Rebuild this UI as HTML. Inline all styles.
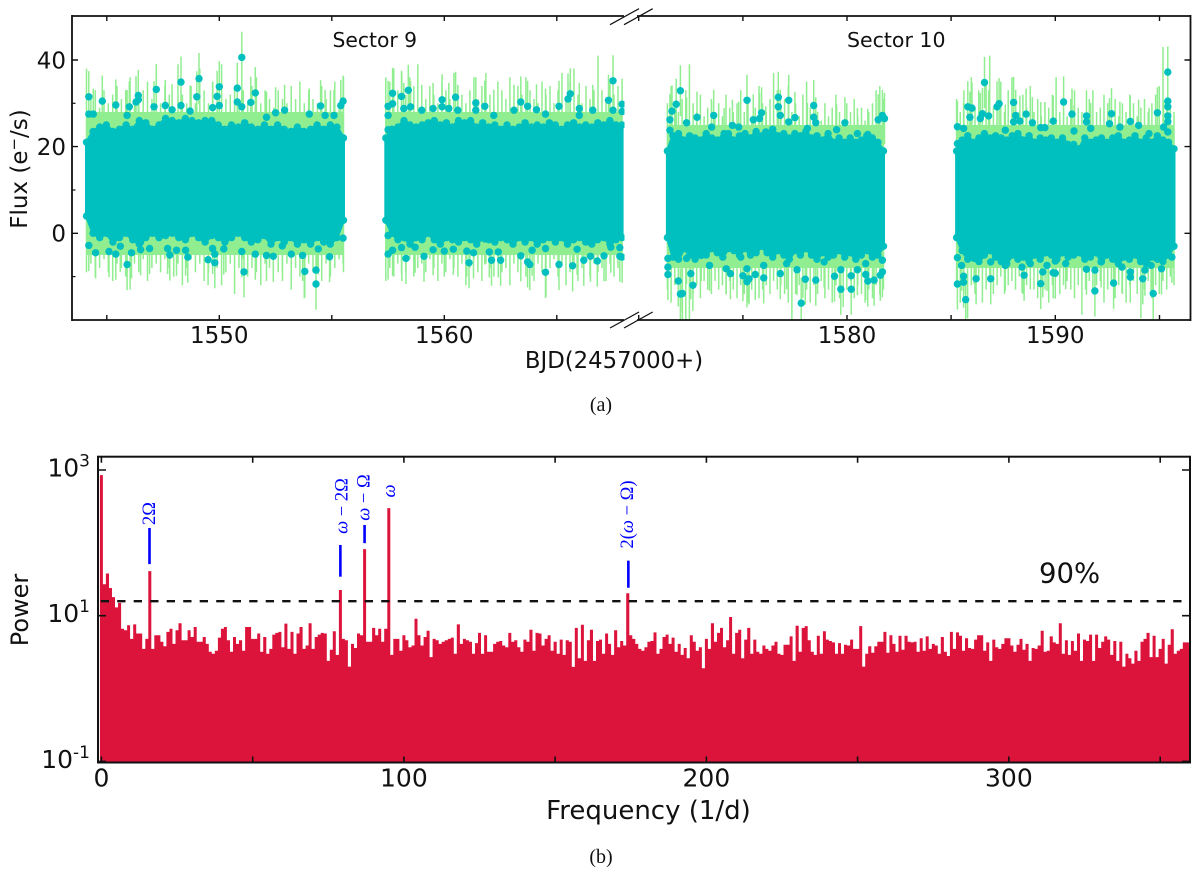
<!DOCTYPE html>
<html>
<head>
<meta charset="utf-8">
<title>Light curve and periodogram</title>
<style>
html,body{margin:0;padding:0;background:#fff;}
svg{display:block;}
text{font-family:"DejaVu Sans","Liberation Sans",sans-serif;fill:#111;}
.serif{font-family:"Liberation Serif",serif;}
.anno{font-family:"Liberation Serif",serif;fill:#0000ff;font-size:18.5px;}
</style>
</head>
<body>
<svg id="fig" xmlns="http://www.w3.org/2000/svg" width="1200" height="875" viewBox="0 0 1200 875">
  <defs>
    <clipPath id="clip-left"><rect x="72" y="16" width="552.5" height="304"/></clipPath>
    <clipPath id="clip-right"><rect x="637" y="16" width="553" height="304"/></clipPath>
    <clipPath id="clip-power"><rect x="99" y="457" width="1091" height="305.5"/></clipPath>
  </defs>
  <g id="lc-left" clip-path="url(#clip-left)"></g>
  <g id="lc-right" clip-path="url(#clip-right)"></g>
  <g id="power-plot" clip-path="url(#clip-power)"></g>
  <g id="annotations"></g>
  <g id="top-axes" stroke="#111" stroke-width="1.8" fill="none">
    <line x1="72" y1="16" x2="624" y2="16"/>
    <line x1="637" y1="16" x2="1190.5" y2="16"/>
    <line x1="72" y1="320" x2="624" y2="320"/>
    <line x1="637" y1="320" x2="1190.5" y2="320"/>
    <line x1="72" y1="15" x2="72" y2="321"/>
    <line x1="1190.5" y1="15" x2="1190.5" y2="321"/>
    <g stroke-width="1.2">
      <line x1="610" y1="24.7" x2="639" y2="8.7"/>
      <line x1="624" y1="24.7" x2="652.7" y2="8.7"/>
      <line x1="610" y1="328" x2="639" y2="312"/>
      <line x1="624" y1="328" x2="652.7" y2="312"/>
    </g>
  </g>
  <g id="bottom-axes" stroke="#111" stroke-width="2" fill="none">
    <rect x="98" y="456.7" width="1092" height="305.8"/>
  </g>
  <line id="threshold" stroke="#111" stroke-width="2.4" stroke-dasharray="8.3 8.2"/>
  <g id="tick-labels"></g>

  <text x="332.5" y="47" font-size="20.3">Sector 9</text>
  <text x="847" y="47" font-size="20.5">Sector 10</text>
  <text x="614" y="368" font-size="22.8" text-anchor="middle">BJD(2457000+)</text>
  <text transform="translate(27,169) rotate(-90)" font-size="23" text-anchor="middle">Flux (e<tspan font-size="15" dy="-8">−</tspan><tspan dy="8">/s)</tspan></text>
  <text class="serif" x="601" y="411" font-size="20" text-anchor="middle">(a)</text>
  <text class="serif" x="601" y="863" font-size="20" text-anchor="middle">(b)</text>
  <text x="648.5" y="819" font-size="26" text-anchor="middle">Frequency (1/d)</text>
  <text transform="translate(28,610) rotate(-90)" font-size="24" text-anchor="middle">Power</text>
  <text x="1039" y="582.5" font-size="27.5">90%</text>

  <text class="anno" transform="translate(155,513.5) rotate(-90)" text-anchor="middle">2Ω</text>
  <text class="anno" transform="translate(347.5,506) rotate(-90)" text-anchor="middle"><tspan font-style="italic">ω</tspan> − 2Ω</text>
  <text class="anno" transform="translate(369.5,497.5) rotate(-90)" text-anchor="middle"><tspan font-style="italic">ω</tspan> − Ω</text>
  <text class="anno" transform="translate(395,491) rotate(-90)" text-anchor="middle"><tspan font-style="italic">ω</tspan></text>
  <text class="anno" transform="translate(633,514.5) rotate(-90)" text-anchor="middle">2(<tspan font-style="italic">ω</tspan> − Ω)</text>
</svg>

<script>
// ---------- Light curve data: sector 9, first orbit ----------
const seg1Range = [1544.1, 1555.52];
const seg1CoreHigh = [21,23.5,24.5,25,23.5,24,25,24,26,25.5,24,25,26.5,26,25.5,26.5,26,25.5,26,26,25,24,25,24.5,25.5,24.5,24,25,24,25,24,23.5,24.5,23.5,24,25,24,25,24.5,22];
const seg1CoreLow = [4,0,-1,0,-2,-1,0,-1.5,-2.5,-1,0,-1,-0.5,0,-1,-1.5,0,-1,-2,-0.5,-1,-2,-1,0,-1,-2,-1.5,-0.5,-2.5,-1,-2,-1,-2.5,-1.5,-2.5,-1,-2,-2.5,-1,3];
const seg1ErrHigh = [38,31,33,29,33,30,32,34,31,33,36,30,31,33,35,31,37,30,34,32,29,39,32,30,34,30,38,33,30,35,33,39,31,32,34,29,33,30,34,36,30,33,31,29,33,31,30,34,31,35,30,33,31,30,34,31,33,35,30,36];
const seg1ErrLow = [-9,-7,-10,-8,-6,-9,-11,-7,-8,-10,-13,-7,-9,-6,-11,-8,-7,-9,-6,-8,-10,-7,-12,-8,-6,-9,-7,-11,-9,-6,-8,-12,-9,-7,-14,-8,-6,-10,-8,-9,-12,-7,-8,-6,-9,-11,-7,-13,-8,-10,-15,-7,-9,-8,-11,-7,-10,-8,-6,-9];
const seg1DotTime = [1544.2,1544.2,1544.8,1544.4,1545.4,1546.0,1546.4,1546.4,1546.3,1545.9,1547.2,1547.1,1547.6,1547.9,1548.3,1548.3,1549.0,1549.1,1548.7,1549.7,1549.9,1550.0,1550.0,1550.8,1550.8,1551.0,1551.4,1551.6,1551.0,1552.1,1552.5,1552.9,1554.0,1554.5,1555.4,1555.5,1554.7,1555.1,1544.2,1544.5,1545.1,1545.4,1545.9,1545.6,1546.1,1546.5,1546.5,1546.9,1547.7,1547.8,1548.1,1548.6,1548.5,1549.5,1549.8,1549.8,1549.7,1550.2,1551.0,1551.1,1551.6,1552.1,1552.4,1552.8,1553.2,1553.7,1553.8,1554.3,1554.3,1554.4,1554.9,1555.5];
const seg1DotFlux = [31.5,27.5,30.5,27.5,29.6,29.2,31.8,30.8,30.3,27.2,33.2,29.2,29.5,28.5,34.9,29.5,31.5,35.7,28.2,29,31.6,33.8,29.5,33.5,30.3,40.6,30.2,32.4,29.2,26.8,27.8,28.4,27.5,29.4,29.5,30.5,27.2,27.2,-2.8,-4.5,-4.2,-4.8,-7.2,-3,-4.5,-2,-3.8,-3.5,-3.5,-5,-3.9,-5.5,-3.9,-6.1,-6.8,-4.8,-3.5,-3.6,-4.2,-8.9,-4.8,-5.1,-5.3,-2.9,-4.8,-5.1,-8.8,-8.5,-11.7,-3.6,-5.4,-1.1];

// ---------- Sector 9, second orbit ----------
const seg2Range = [1557.4, 1567.9];
const seg2CoreHigh = [22,24,24.5,26,25,24.5,25,25.5,26,25,25.5,24.5,26,25.5,26,24.5,25.5,24.5,25,24,25,24,24.5,25.5,24.5,25,24.5,25.5,25,24,25,25.5,24.5,25,24.5,25.5,25,26,25,25];
const seg2CoreLow = [3,0,-1.5,-1,-2.5,-1,-1.5,0,-1.5,-2.5,-1,-1.5,-2,-1,-1.5,-2.5,-1,-1.5,-2,-1,-1.5,-2.5,-1,-2,-1,-2.5,-1.5,-1,-2,-1,-2.5,-1.5,-1,-2,-2.5,-1.5,-1,-2.5,-1.5,-1];
const seg2ErrHigh = [36,35,38,33,37,32,36,34,39,33,31,34,32,30,35,33,31,37,34,32,30,33,36,31,34,37,32,30,35,33,31,36,30,34,32,36,33,31,30,35,32,34,30,33,37,31,35,38,32,30,34,31,33,41,33,31,35,32,34,31];
const seg2ErrLow = [-11,-8,-10,-7,-11,-9,-6,-10,-8,-7,-9,-6,-8,-11,-7,-9,-6,-8,-10,-7,-12,-8,-6,-9,-11,-7,-8,-10,-6,-9,-8,-12,-7,-9,-6,-10,-8,-11,-7,-9,-14.6,-8,-6,-10,-7,-12,-9,-7,-11,-8,-6,-10,-7,-9,-8,-11,-7,-10,-8,-11];
const seg2DotTime = [1557.7,1557.5,1557.7,1557.5,1557.5,1558.1,1558.4,1558.5,1558.2,1559.0,1559.5,1559.9,1559.9,1560.5,1560.2,1560.6,1561.4,1561.8,1561.4,1562.2,1563.1,1563.4,1563.7,1564.1,1564.5,1565.1,1565.5,1565.6,1566.0,1566.6,1567.3,1567.5,1567.9,1567.9,1567.5,1566.0,1557.5,1557.5,1557.7,1558.3,1558.1,1558.7,1559.1,1559.5,1560.0,1560.4,1561.0,1561.1,1561.3,1561.8,1562.0,1562.4,1562.1,1562.5,1563.4,1563.7,1563.8,1563.9,1564.5,1564.5,1565.1,1565.7,1565.9,1566.2,1566.5,1566.8,1567.1,1567.4,1567.8,1567.8,1567.9];
const seg2DotFlux = [32.3,29.3,29.9,27.2,23.9,31.6,33,29.2,28.8,28.4,28.8,30.8,29.2,31.4,28.8,28.4,30.1,29.3,28.4,27.2,28.4,30.3,29.3,28.5,27.5,29.3,31,32.2,28.8,28.4,30.7,35.2,29.8,28.1,28.4,27.2,-0.5,-4.8,-3.9,-5.8,-3.3,-3.2,-5.3,-3.8,-4.1,-3.7,-4.1,-6.8,-4.5,-1.3,-4.3,-4.3,-6.2,-6.2,-5.2,-6.6,-7.2,-3.9,-9,-3.5,-7.2,-7.5,-3.7,-6.2,-5.3,-6.4,-5.2,-3.2,-3.3,-5.3,-5.5];

// ---------- Sector 10, first orbit ----------
const seg3Range = [1571.38, 1581.75];
const seg3CoreHigh = [19,22.5,23,21.5,22.5,22,21.5,23,22,21.5,22,23,21.5,22.5,23,22,23.5,22.5,23,24,22.5,23,22,23,22.5,23.5,22,22.5,21.5,23,21,22,21,22,21,21.5,22.5,22,21,19];
const seg3CoreLow = [-1,-5.5,-6,-3.5,-5,-6,-4,-5,-3.5,-4.5,-5.5,-3.5,-4,-5,-3.5,-5,-4.5,-3,-4.5,-5.5,-4,-5,-6,-4,-5,-3.5,-5,-6,-4.5,-5.5,-5,-4,-5.5,-4.5,-6,-5,-4,-5.5,-5,-3];
const seg3ErrHigh = [30,34,29,28,31,33,39,30,28,32,27,29,31,28,30,27,32,29,28,30,33,28,31,27,29,34,30,28,31,37,33,29,31,34,28,30,27,32,35,29,31,28,26,30,27,29,32,28,26,30,28,31,27,29,26,28,30,33,34,31];
const seg3ErrLow = [-13,-16,-12,-15,-18,-20,-20,-14,-12,-15,-11,-13,-14,-11,-13,-12,-14,-11,-13,-15,-12,-14,-16,-13,-11,-15,-13,-12,-14,-11,-13,-12,-14,-16,-20,-14,-12,-15,-13,-16,-12,-14,-11,-15,-13,-16,-12,-15,-17,-13,-11,-15,-12,-14,-16,-13,-15,-12,-14,-13];
const seg3DotTime = [1572.0,1571.8,1571.6,1571.5,1571.5,1572.3,1572.8,1573.6,1573.5,1574.5,1575.2,1575.5,1575.9,1575.8,1574.8,1576.7,1576.7,1576.8,1577.2,1577.2,1577.5,1578.4,1578.4,1578.5,1578.1,1579.9,1579.5,1580.5,1581.0,1581.7,1581.8,1581.5,1576.1,1574.1,1571.4,1571.4,1571.4,1571.9,1572.0,1572.1,1572.6,1572.5,1572.3,1573.0,1573.4,1574.2,1574.4,1574.9,1575.0,1575.2,1575.3,1575.2,1575.6,1576.0,1576.0,1576.8,1577.1,1577.8,1578.0,1577.6,1578.5,1578.9,1579.4,1579.7,1579.7,1580.2,1580.2,1580.5,1580.9,1581.0,1581.3,1581.6,1581.7,1581.7,1580.9];
const seg3DotFlux = [32.9,29.8,28.2,26.2,23.8,25.5,26.8,27.2,24.5,24.9,30.7,26.2,27.8,26.5,24.5,31.4,29.2,27.2,30.7,25.7,26.7,29.5,26.8,25.5,24.2,25.5,23.9,23,22.8,27.2,26.5,26.2,23.4,23,-9.5,-7.8,-5.8,-11,-14,-13.9,-12,-9.3,-5.8,-5.1,-7.4,-8.2,-9.3,-5.5,-9.8,-11.2,-10.5,-8.2,-9.5,-10.3,-7.4,-9.3,-7,-16.1,-10.6,-8.4,-10.8,-6.6,-9.9,-12.9,-8.4,-12.9,-9.8,-8.4,-9.5,-11,-10.8,-9.7,-8.9,-6.2,-7];

// ---------- Sector 10, second orbit ----------
const seg4Range = [1585.26, 1595.7];
const seg4CoreHigh = [19,21.5,22.5,21,22,23,22,22.5,22,21.5,22.5,23,21.5,22.5,21,22,21.5,22,21,22,20.5,20.5,19.5,22,21,21.5,22,21,22,22.5,21,21.5,22.5,21,22,21,22.5,21.5,21,19.5];
const seg4CoreLow = [-1,-4,-6,-5,-6.5,-5,-4,-5.5,-6.5,-7,-5,-6,-5.5,-6.5,-5,-6,-4.5,-5,-6,-4.5,-5.5,-5,-4.5,-6,-5.5,-4.5,-6.5,-5,-6,-7,-5.5,-6,-5,-6.5,-7,-5.5,-6,-6.5,-5,-3];
const seg4ErrHigh = [31,28,33,30,36,29,33,30,34,41,29,31,35,28,33,36,30,28,32,29,34,28,31,27,30,29,32,36,28,30,27,31,33,29,28,27,31,33,28,29,32,30,28,31,27,30,28,32,30,27,29,31,28,30,32,34,43,31,29,28];
const seg4ErrLow = [-11,-16,-14,-19.6,-12,-14,-11,-16,-13,-11,-14,-12,-10,-14,-12,-11,-13,-10,-14,-12,-11,-13,-15,-11,-13,-16,-12,-10,-14,-12,-11,-13,-15,-12,-18.8,-13,-11,-14,-12,-11,-16,-13,-11,-15,-12,-14,-16,-12,-11,-14,-19.6,-13,-11,-15,-12,-14,-11,-13,-10,-12];
const seg4DotTime = [1585.3,1585.6,1585.3,1585.8,1586.0,1585.9,1586.6,1586.4,1586.5,1586.8,1587.2,1587.3,1588.0,1587.6,1588.1,1588.0,1588.6,1588.3,1588.9,1589.3,1589.5,1589.9,1590.4,1590.8,1590.9,1591.5,1591.5,1591.7,1592.7,1592.6,1593.1,1593.6,1594.0,1594.9,1594.5,1595.2,1595.4,1595.4,1595.4,1595.4,1595.4,1595.4,1585.3,1585.5,1585.3,1585.6,1585.6,1585.7,1586.2,1586.1,1586.9,1586.9,1587.6,1588.4,1588.5,1588.8,1589.3,1589.4,1589.6,1589.9,1590.0,1590.0,1590.5,1591.5,1591.9,1591.9,1592.2,1592.8,1593.2,1593.6,1593.6,1594.2,1594.3,1594.7,1594.6,1595.1,1595.6];
const seg4DotFlux = [24.6,24.2,20.7,29.2,28.9,26.8,34.8,26.5,27.6,27.1,29.2,29.9,30.2,23.8,27.2,25.7,27.5,25.9,25.5,24.4,24.4,25.9,30.3,27.5,23.6,27.1,25.7,24.2,27.6,25.3,24.5,25.8,24.9,27.8,23,24.5,37.2,30.5,29.2,27.1,25.8,23.4,-5.6,-7.4,-11.7,-9.9,-11.3,-15.3,-10.5,-5.8,-10.5,-6.6,-7.4,-7.8,-9.7,-7,-11.6,-8.9,-7.4,-9.1,-9.2,-6.4,-7,-8.3,-13.3,-8.5,-6.6,-11.5,-7.8,-10.1,-8.9,-10.5,-8.5,-13.9,-7.4,-8.2,-5.5];

// Typical error-bar half length on a flux point, and the dense green band per orbit
const fluxError = [5.9];
const bandHigh = [28, 28, 25, 25];
const bandLow = [-5, -5, -8, -8];

// ---------- Axis labels ----------
const timeTicksLeft = [1545,1550,1555,1560,1565];
const timeLabelsLeft = [1550,1560];
const timeTicksRight = [1570,1575,1580,1585,1590,1595];
const timeLabelsRight = [1580,1590];
const fluxTicksMajor = [0,20,40];
const fluxTicksMinor = [-10,10,30];
const freqTicks = [0,50,100,150,200,250,300,350];
const freqLabels = [0,100,200,300];
const powerTicks = [0.1,10,1000];
const powerExponents = ["-1","1","3"];

// ---------- Periodogram: power per 1/d frequency bin, f = 0..359 ----------
const powerValues = [850,27,38,24,18,13,15,6.6,6.3,7.4,4.8,7.6,5.7,5.7,3.5,4.8,41,3.5,5.4,5.4,4.4,3.8,6,6.6,4.1,6.3,7.9,4.6,4.6,6.3,5.1,7,4.4,4.4,5.1,4.1,3.2,3,3.3,5,6.6,7,4.6,3.2,5.1,4.1,4.6,3.3,7,7,4.8,4.8,5.7,3.2,5.1,3,3.5,5.5,5.8,6,3.7,7.8,3.5,6,3,5.7,7,3.5,3.9,7.9,3.5,5.1,5.5,5.8,5.7,2.4,3.4,6.1,2.9,22.5,4.8,4.6,2,4.1,3.6,5.7,5.4,82,4.4,
4.4,6.8,5.4,6.6,4.4,6.6,300,2.9,4.8,4.8,3.3,5.4,4.6,3.7,3.9,9.1,5.4,3.9,5.1,6.2,2.7,4.8,4.6,4.1,4.4,4.6,4.8,5,3,7.6,4.1,4.8,4.6,4.4,3,4.2,5.8,3,5.4,3.2,3.2,4.1,4.4,4.5,3.9,3.7,5.8,4.4,4.6,3.7,3.2,4.7,4.4,6.4,3.3,5.8,5.7,3.9,4.8,5.4,3.3,4.4,3,4.7,2.9,4.6,4.4,1.98,6.8,2.6,7.5,2.4,4.6,6.4,2.4,4.5,4.7,3,5.7,4.1,2.9,6.3,3.7,4.5,3.9,20.3,5.4,4.8,4.1,3.5,
3.3,3.7,4.4,4.5,5.9,3,3.5,5.1,5.5,4.1,5,3.2,4.1,2.9,3.6,2.6,5.4,4.4,3.3,3.7,1.9,4.8,3.5,7.9,4.4,5.8,6.8,3.7,4.6,9.6,3,5.8,6.4,2.6,4.7,6.8,3,4.7,3.2,3,3.9,3.5,3.3,3.9,4.4,3,2.9,4,4,5.2,2.4,7.3,3.2,6.8,7.2,4.6,3.2,2.9,5.3,3,6.1,4.7,4.5,4.3,3,4.2,3,4,3.9,4.7,3.5,3.5,7.2,2,3,3.8,3.1,3.8,4.4,4.4,6,3.1,5.4,4.1,3.2,5.3,3.4,5.3,4.4,4.3,4.4,3.2,
4.9,3.3,5.2,3.5,4.1,3.9,3,5.1,3.2,2.8,6,3.5,5.9,5.3,3.3,4.9,3.6,3.5,4.7,5.4,5.4,3.3,4.3,2.4,4.7,3.7,3.5,4.1,4.9,4.9,3.9,3.2,4,4.8,3.4,4.1,2.4,3.6,3.5,3.9,6.2,3.2,3.3,5.2,4.3,4.1,7.9,3,4.6,2.9,4.5,3.3,5.7,2.4,4.7,4.5,5.5,2.4,5.5,3.6,4.4,5.2,4.7,2.9,4.5,2.4,4.4,2,3,2.6,2.2,3.3,2.4,4.4,4.8,5.8,2.7,5.3,2.7,3.5,4.8,2.2,4,6.5,3,3.3,3.5,4.3,4.3];
const thresholdPower = [15.8];

// ---------- Peak annotation bars: frequency and lower / upper power of each bar ----------
const peakFreqs = [15.9, 79, 87, 174.2];
const peakBarLow = [51, 34.3, 99, 24.2];
const peakBarHigh = [160, 93.5, 176, 57];

// ---------- Axis functions ----------
const NS = 'http://www.w3.org/2000/svg';
function xLeft(t){ return 219.3 + (t - 1550) * 22.5; }
function xRight(t){ return 847 + (t - 1580) * 20.83; }
function yFlux(v){ return 233.3 - v * 4.333; }
function xFreq(f){ return 101.4 + f * 3.025; }
function yPower(p){ return 615.7 - (Math.log10(p) - 1) * 72.85; }
function make(tag, parent, attrs){
  const e = document.createElementNS(NS, tag);
  for (const k in attrs) e.setAttribute(k, attrs[k]);
  parent.appendChild(e);
  return e;
}
function tickPath(parent, d, w){
  return make('path', parent, {d: d, stroke: '#111', 'stroke-width': w, fill: 'none'});
}

// ---------- Light curve drawing ----------
function drawSegment(parent, xf, range, coreHigh, coreLow, errHigh, errLow, dotT, dotF, k){
  const t0 = range[0], t1 = range[1];
  // continuous green band
  const band = make('rect', parent, {x: xf(t0), width: xf(t1) - xf(t0), y: yFlux(bandHigh[k]), height: yFlux(bandLow[k]) - yFlux(bandHigh[k]), fill: '#90ee90'});
  
  
  // sampled error spikes
  let d = '';
  errHigh.forEach(function(v, i){
    const t = t0 + (t1 - t0) * i / (errHigh.length - 1);
    d += 'M' + xf(t).toFixed(1) + ' ' + yFlux(v).toFixed(1) + 'V' + yFlux(errLow[i]).toFixed(1);
  });
  dotT.forEach(function(t, i){
    d += 'M' + xf(t).toFixed(1) + ' ' + yFlux(dotF[i] + fluxError[0]).toFixed(1) + 'V' + yFlux(dotF[i] - fluxError[0]).toFixed(1);
  });
  const bars = make('path', parent, {d: d, stroke: '#90ee90', 'stroke-width': 1.5, fill: 'none'});
  
  
  // dense core of overlapping points
  const n = coreHigh.length;
  let pts = [];
  for (let i = 0; i < n; i++){ pts.push(xf(t0 + (t1 - t0) * i / (n - 1)).toFixed(1) + ',' + yFlux(coreHigh[i]).toFixed(1)); }
  for (let i = n - 1; i >= 0; i--){ pts.push(xf(t0 + (t1 - t0) * i / (n - 1)).toFixed(1) + ',' + yFlux(coreLow[i]).toFixed(1)); }
  const core = make('polygon', parent, {points: pts.join(' '), fill: '#00bfbf', stroke: '#00bfbf', 'stroke-width': 3, 'stroke-linejoin': 'round'});
  
  
  // points along the upper and lower rim of the dense core
  coreHigh.forEach(function(v, i){
    const x = xf(t0 + (t1 - t0) * i / (n - 1)).toFixed(1);
    const a = make('circle', parent, {cx: x, cy: yFlux(v).toFixed(1), r: 3.7, fill: '#00bfbf'});
    
    
    const b = make('circle', parent, {cx: x, cy: yFlux(coreLow[i]).toFixed(1), r: 3.7, fill: '#00bfbf'});
    
    
  });
  // individually resolved points
  dotT.forEach(function(t, i){
    const c = make('circle', parent, {cx: xf(t).toFixed(1), cy: yFlux(dotF[i]).toFixed(1), r: 3.7, fill: '#00bfbf'});
    
    
  });
}
const lcLeft = document.getElementById('lc-left');
const lcRight = document.getElementById('lc-right');
drawSegment(lcLeft, xLeft, seg1Range, seg1CoreHigh, seg1CoreLow, seg1ErrHigh, seg1ErrLow, seg1DotTime, seg1DotFlux, 0);
drawSegment(lcLeft, xLeft, seg2Range, seg2CoreHigh, seg2CoreLow, seg2ErrHigh, seg2ErrLow, seg2DotTime, seg2DotFlux, 1);
drawSegment(lcRight, xRight, seg3Range, seg3CoreHigh, seg3CoreLow, seg3ErrHigh, seg3ErrLow, seg3DotTime, seg3DotFlux, 2);
drawSegment(lcRight, xRight, seg4Range, seg4CoreHigh, seg4CoreLow, seg4ErrHigh, seg4ErrLow, seg4DotTime, seg4DotFlux, 3);

// ---------- Periodogram drawing ----------
const powerPlot = document.getElementById('power-plot');
let powerPath = 'M' + xFreq(-0.5).toFixed(1) + ' 764';
powerValues.forEach(function(p, i){
  const y = yPower(p).toFixed(1);
  powerPath += 'L' + xFreq(i - 0.5).toFixed(1) + ' ' + y + 'L' + xFreq(i + 0.5).toFixed(1) + ' ' + y;
});
powerPath += 'L' + xFreq(powerValues.length).toFixed(1) + ' 764Z';
const powerShape = make('path', powerPlot, {d: powerPath, fill: '#dc143c'});



const annoGroup = document.getElementById('annotations');
peakFreqs.forEach(function(f, i){
  const l = make('line', annoGroup, {x1: xFreq(f), x2: xFreq(f), y1: yPower(peakBarLow[i]), y2: yPower(peakBarHigh[i]), stroke: '#0000ff', 'stroke-width': 2.6});
  
  
});

const thr = document.getElementById('threshold');
thr.setAttribute('x1', 100.7);
thr.setAttribute('x2', 1183);
thr.setAttribute('y1', yPower(thresholdPower[0]));
thr.setAttribute('y2', yPower(thresholdPower[0]));

// ---------- Ticks ----------
const topAxes = document.getElementById('top-axes');
const botAxes = document.getElementById('bottom-axes');
const labels = document.getElementById('tick-labels');

function timeTicks(list, xf){
  list.forEach(function(t){
    const x = xf(t).toFixed(1);
    const tk = tickPath(topAxes, 'M' + x + ' 16v5M' + x + ' 320v-5', 1.4);
    
    
  });
}
timeTicks(timeTicksLeft, xLeft);
timeTicks(timeTicksRight, xRight);

fluxTicksMajor.forEach(function(v){
  const y = yFlux(v).toFixed(1);
  const tk = tickPath(topAxes, 'M72 ' + y + 'h6M1190.5 ' + y + 'h-6', 1.4);
  
  
  const tx = make('text', labels, {x: 66, y: (yFlux(v) + 8.3).toFixed(1), 'font-size': 23, 'text-anchor': 'end'});
  tx.textContent = String(v);
  
  
});
fluxTicksMinor.forEach(function(v){
  const y = yFlux(v).toFixed(1);
  const tk = tickPath(topAxes, 'M72 ' + y + 'h3.5', 1.2);
  
  
});
timeLabelsLeft.forEach(function(t){
  const tx = make('text', labels, {x: xLeft(t), y: 343, 'font-size': 23, 'text-anchor': 'middle'});
  tx.textContent = String(t);
  
  
});
timeLabelsRight.forEach(function(t){
  const tx = make('text', labels, {x: xRight(t), y: 343, 'font-size': 23, 'text-anchor': 'middle'});
  tx.textContent = String(t);
  
  
});

freqTicks.forEach(function(f){
  const x = xFreq(f).toFixed(1);
  const tk = tickPath(botAxes, 'M' + x + ' 456.7v6M' + x + ' 762.5v-6', 1.6);
  
  
});
freqLabels.forEach(function(f){
  const tx = make('text', labels, {x: xFreq(f), y: 786.7, 'font-size': 25, 'text-anchor': 'middle'});
  tx.textContent = String(f);
  
  
});
powerTicks.forEach(function(p, i){
  const y = yPower(p);
  const tk = tickPath(botAxes, 'M98 ' + y.toFixed(1) + 'h8M1190 ' + y.toFixed(1) + 'h-8', 1.6);
  
  
  const tx = make('text', labels, {x: 90, y: (y + 6.5).toFixed(1), 'font-size': 25, 'text-anchor': 'end'});
  
  
  const base = make('tspan', tx, {});
  base.textContent = '10';
  const sup = make('tspan', tx, {'font-size': 17, dy: -10});
  sup.textContent = powerExponents[i];
});
</script>
</body>
</html>
